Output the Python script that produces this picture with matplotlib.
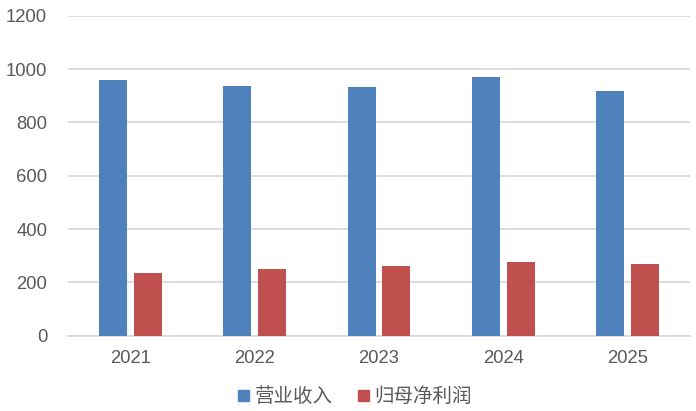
import matplotlib
matplotlib.use("Agg")
import matplotlib.pyplot as plt
import numpy as np
from matplotlib.patches import Patch

years = ["2021", "2022", "2023", "2024", "2025"]
revenue = [959, 936, 933, 970, 918]
net_profit = [235, 250, 261, 276, 269]
series_names = ["营业收入", "归母净利润"]
y_ticks = [0, 200, 400, 600, 800, 1000, 1200]

BLUE = "#4F81BD"
RED = "#C0504D"
GRID = "#D9D9D9"
TEXT = "#595959"

plt.rcParams["font.family"] = ["Liberation Sans", "Noto Sans CJK SC", "DejaVu Sans"]

fig = plt.figure(figsize=(6.96, 4.11), dpi=100)
ax = fig.add_axes([68 / 696, 0.1832, 622 / 696, 0.7786])

x = np.arange(len(years))
width = 0.225
offset = 0.14
ax.bar(x - offset, revenue, width, color=BLUE, zorder=3)
ax.bar(x + offset, net_profit, width, color=RED, zorder=3)

ax.set_xlim(-0.5, len(years) - 0.5)
ax.set_ylim(0, 1200)
ax.set_yticks(y_ticks)
ax.set_xticks(x)
ax.set_xticklabels(years)
ax.tick_params(axis="both", length=0, labelsize=13.3, colors=TEXT)
ax.tick_params(axis="y", pad=15)
ax.tick_params(axis="x", pad=10.5)
ax.yaxis.grid(True, color=GRID, linewidth=1.3, zorder=0)
for side in ["top", "right", "left"]:
    ax.spines[side].set_visible(False)
ax.spines["bottom"].set_color(GRID)
ax.spines["bottom"].set_linewidth(1.3)

handles = [Patch(color=BLUE), Patch(color=RED)]
fig.legend(handles, series_names, loc="center", bbox_to_anchor=(355 / 696, 1 - 397 / 411),
           ncol=2, frameon=False, fontsize=14, labelcolor=TEXT,
           handlelength=0.55, handleheight=0.55, handletextpad=0.3, columnspacing=1.3)

fig.savefig("out.png", dpi=100)
